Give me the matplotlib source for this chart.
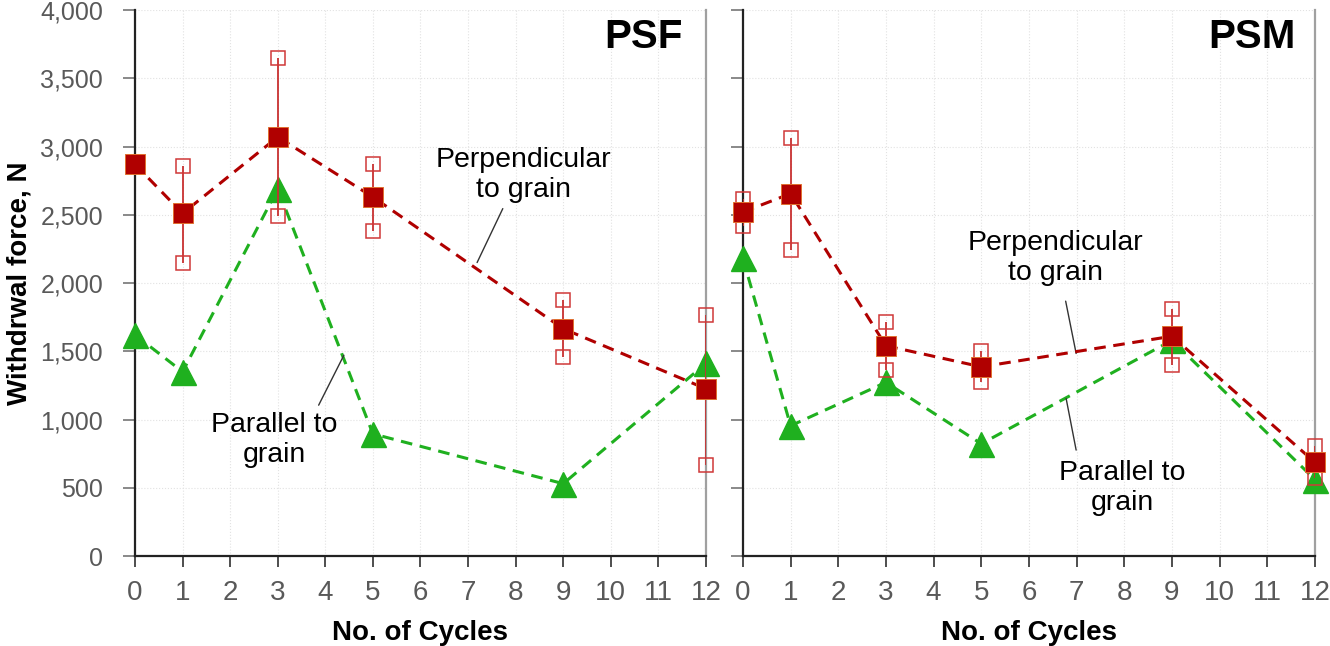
import numpy as np
import matplotlib.pyplot as plt

plt.rcParams['font.family'] = ['Liberation Sans', 'DejaVu Sans']

cycles = [0, 1, 3, 5, 9, 12]

# PSF
psf_perp = [2870, 2510, 3070, 2630, 1665, 1225]
psf_perp_low = [np.nan, 2150, 2490, 2380, 1457, 670]
psf_perp_high = [np.nan, 2857, 3648, 2875, 1872, 1764]
psf_para = [1620, 1350, 2690, 895, 530, 1411]

# PSM
psm_perp = [2520, 2655, 1540, 1386, 1610, 686]
psm_perp_low = [2418, 2240, 1362, 1276, 1398, 570]
psm_perp_high = [2613, 3062, 1713, 1503, 1806, 805]
psm_para = [2180, 954, 1272, 822, 1580, 560]

xticks = list(range(13))
yticks = list(range(0, 4001, 500))

RED = '#b00000'
GREEN = '#1fb01f'


def draw_panel(ax, perp, low, high, para, title, show_ylabels):
    perp = np.array(perp, dtype=float)
    low = np.array(low, dtype=float)
    high = np.array(high, dtype=float)

    ax.grid(True, color='#e2e2e2', linestyle=':', linewidth=0.8)
    ax.set_axisbelow(True)

    ax.plot(cycles, para, color=GREEN, lw=2.2, dashes=(3.8, 2.5),
            marker='^', ms=18, mfc=GREEN, mec=GREEN, clip_on=False, zorder=3)

    ax.vlines(cycles, low, high, color='#c83030', lw=1.3, zorder=4)
    ax.plot(cycles, low, ls='none', marker='s', ms=9.5, mfc='none',
            mec='#d03838', mew=1.1, clip_on=False, zorder=4)
    ax.plot(cycles, high, ls='none', marker='s', ms=9.5, mfc='none',
            mec='#d03838', mew=1.1, clip_on=False, zorder=4)

    ax.plot(cycles, perp, color=RED, lw=2.2, dashes=(3.8, 2.5),
            marker='s', ms=15, mfc=RED, mec='#e07030', mew=0.7,
            clip_on=False, zorder=5)

    ax.set_xlim(0, 12)
    ax.set_ylim(0, 4000)
    ax.set_xticks(xticks)
    ax.set_yticks(yticks)
    ax.set_yticklabels(['{:,}'.format(v) for v in yticks])
    if not show_ylabels:
        ax.tick_params(axis='y', labelleft=False)

    ax.tick_params(axis='y', direction='out', length=9, width=1.3,
                   color='#808080', labelsize=18, labelcolor='#595959', pad=14)
    ax.tick_params(axis='x', direction='out', length=8, width=1.3,
                   color='#404040', labelsize=20, labelcolor='#595959', pad=9)

    ax.spines['top'].set_visible(False)
    ax.spines['left'].set_color('#222222')
    ax.spines['left'].set_linewidth(1.6)
    ax.spines['bottom'].set_color('#222222')
    ax.spines['bottom'].set_linewidth(1.6)
    ax.spines['right'].set_color('#a0a0a0')
    ax.spines['right'].set_linewidth(1.6)

    ax.text(0.89, 0.95, title, transform=ax.transAxes, fontsize=29,
            fontweight='bold', ha='center', va='center')
    ax.set_xlabel('No. of Cycles', fontsize=20, fontweight='bold', labelpad=10)


fig = plt.figure(figsize=(13.3, 6.46), dpi=100)
ax1 = fig.add_axes([0.1015, 0.1393, 0.4293, 0.8452])
ax2 = fig.add_axes([0.5586, 0.1393, 0.4301, 0.8452])

draw_panel(ax1, psf_perp, psf_perp_low, psf_perp_high, psf_para, 'PSF', True)
draw_panel(ax2, psm_perp, psm_perp_low, psm_perp_high, psm_para, 'PSM', False)

fig.text(0.0145, 0.562, 'Withdrwal force, N', rotation=90, fontsize=20,
         fontweight='bold', ha='center', va='center')

lead = dict(arrowstyle='-', color='#333333', lw=1.0, shrinkA=0, shrinkB=0)
txt = dict(fontsize=20.5, ha='center', va='center', multialignment='center')

ax1.text(8.16, 2790, 'Perpendicular\nto grain', **txt)
ax1.annotate('', xy=(7.19, 2150), xytext=(7.73, 2545), arrowprops=lead)
ax1.text(2.93, 850, 'Parallel to\ngrain', **txt)
ax1.annotate('', xy=(4.39, 1471), xytext=(3.86, 1105), arrowprops=lead)

ax2.text(6.55, 2180, 'Perpendicular\nto grain', **txt)
ax2.annotate('', xy=(6.99, 1484), xytext=(6.77, 1867), arrowprops=lead)
ax2.text(7.95, 495, 'Parallel to\ngrain', **txt)
ax2.annotate('', xy=(6.78, 1154), xytext=(6.99, 776), arrowprops=lead)

fig.savefig('out.png', dpi=100)
